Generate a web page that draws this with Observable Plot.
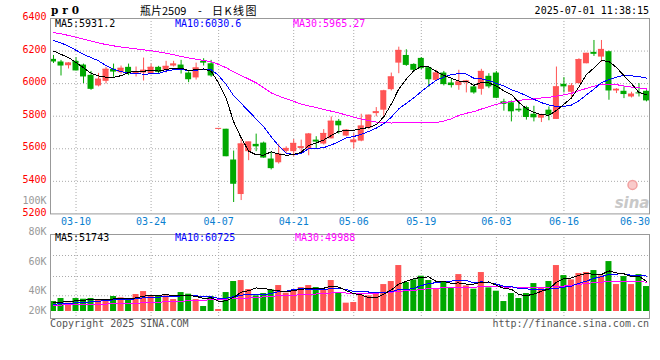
<!DOCTYPE html>
<html><head><meta charset="utf-8">
<script src="https://cdn.jsdelivr.net/npm/d3@7"></script>
<script src="https://cdn.jsdelivr.net/npm/@observablehq/plot@0.6"></script>
<style>
html,body{margin:0;padding:0;background:#fff}
#wrap{position:relative;width:660px;height:360px;overflow:hidden;background:#fff;font-family:"DejaVu Sans Mono",monospace;font-size:10px}
#wrap svg{position:absolute;left:0;top:0;overflow:visible}
.t{position:absolute;white-space:pre;line-height:10px;font-family:"DejaVu Sans Mono",monospace;font-size:10px}
.cjk{position:absolute;white-space:pre;font-family:'Noto Sans CJK SC',sans-serif;font-size:11px;line-height:13px;top:4px}
</style></head><body>
<div id="wrap">
  <div class="t" style="left:51px;top:4px;font-family:'DejaVu Serif',serif;font-weight:bold;font-size:10.5px;letter-spacing:4px;line-height:12px">pr0</div>
  <div class="cjk" style="left:140px">瓶片2509</div>
  <div class="cjk" style="left:198px">-</div>
  <div class="cjk" style="left:212px;letter-spacing:1.5px">日K线图</div>
  <div class="t" style="right:11px;top:6px;color:#000">2025-07-01 11:38:15</div>
  <div class="t" style="left:55px;top:19px;color:#000">MA5:5931.2</div>
  <div class="t" style="left:175px;top:19px;color:#0000ff">MA10:6030.6</div>
  <div class="t" style="left:293px;top:19px;color:#ff00ff">MA30:5965.27</div>
  <div class="t" style="left:55px;top:233px;color:#000">MA5:51743</div>
  <div class="t" style="left:175px;top:233px;color:#0000ff">MA10:60725</div>
  <div class="t" style="left:295px;top:233px;color:#ff00ff">MA30:49988</div>
  <div class="t" style="left:50px;top:319px;color:#555">Copyright 2025 SINA.COM</div>
  <div class="t" style="right:11px;top:319px;color:#555">http://finance.sina.com.cn</div>
</div>
<script>
const dates = ["03-05","03-06","03-07","03-10","03-11","03-12","03-13","03-14","03-17","03-18","03-19","03-20","03-21","03-24","03-25","03-26","03-27","03-28","03-31",
"04-01","04-02","04-03","04-07","04-08","04-09","04-10","04-11","04-14","04-15","04-16","04-17","04-18","04-21","04-22","04-23","04-24","04-25","04-28","04-29","04-30",
"05-06","05-07","05-08","05-09","05-12","05-13","05-14","05-15","05-16","05-19","05-20","05-21","05-22","05-23","05-26","05-27","05-28","05-29","05-30",
"06-03","06-04","06-05","06-06","06-09","06-10","06-11","06-12","06-13","06-16","06-17","06-18","06-19","06-20","06-23","06-24","06-25","06-26","06-27","06-30",
"07-01"];
const open  = [6149,6133,6110,6137,6114,6051,5986,6014,6088,6067,6100,6061,6065,6061,6100,6082,6108,6114,6065,6035,6137,6122,5725,5720,5531,5319,5582,5627,5635,5537,5514,5584,5582,5602,5598,5653,5629,5661,5769,5678,5637,5647,5725,5816,5837,5963,6126,6173,6118,6155,6098,6020,6065,6004,5988,6004,5980,5965,6045,6065,5888,5882,5843,5853,5812,5788,5837,5780,5996,5947,6000,6122,6192,6163,6196,5955,5953,5918,5943,5953];
const high  = [6173,6143,6129,6159,6120,6075,6063,6100,6120,6108,6120,6102,6157,6120,6106,6137,6137,6143,6073,6126,6153,6143,5725,5720,5586,5660,5641,5690,5641,5582,5629,5612,5657,5653,5694,5674,5718,5796,5780,5718,5694,5812,5806,5853,5959,6065,6224,6208,6122,6160,6098,6082,6075,6029,6082,6020,5990,6088,6061,6075,5904,5894,5892,5861,5861,5812,5857,6102,6037,6000,6153,6186,6265,6265,6200,5969,5980,5947,6000,5957];
const low   = [6124,6047,6090,6078,6000,5959,5980,5998,6039,6057,6049,6041,6016,6055,6061,6065,6102,6059,6006,6022,6108,6039,5725,5551,5270,5282,5527,5582,5541,5470,5506,5572,5551,5567,5557,5602,5623,5661,5690,5674,5598,5643,5718,5796,5792,5955,6061,6106,6071,6085,5976,6020,5986,5973,5959,5943,5935,5929,5969,5908,5831,5765,5823,5776,5765,5761,5772,5780,5943,5908,6000,6122,6167,6131,5898,5939,5908,5912,5918,5888];
const close = [6133,6108,6126,6078,6041,5965,6027,6088,6071,6094,6061,6073,6082,6100,6069,6106,6120,6086,6024,6096,6126,6047,5725,5551,5382,5629,5641,5612,5543,5478,5567,5602,5633,5612,5690,5641,5694,5769,5741,5714,5653,5739,5806,5827,5955,6041,6204,6112,6082,6092,6024,6065,5994,5988,6010,6016,5943,6075,5980,5910,5873,5827,5833,5792,5790,5808,5806,5980,5980,5986,6147,6186,6180,6210,5955,5965,5933,5935,5937,5894];
const ma5  = [6200,6180,6160,6130,6097,6064,6047,6040,6038,6049,6068,6077,6076,6082,6077,6086,6095,6096,6081,6086,6090,6076,6004,5909,5766,5667,5586,5563,5561,5581,5568,5560,5565,5578,5621,5636,5654,5681,5707,5712,5714,5723,5731,5748,5796,5874,5967,6028,6079,6106,6103,6075,6051,6033,6016,6015,5990,6006,6005,5985,5956,5933,5885,5847,5823,5810,5806,5835,5873,5912,5980,6056,6096,6142,6136,6099,6049,6000,5945,5933];
const ma10 = [6265,6250,6230,6205,6180,6160,6140,6110,6088,6073,6066,6062,6058,6060,6063,6077,6086,6086,6082,6082,6088,6086,6050,5995,5926,5879,5831,5783,5735,5673,5618,5573,5564,5570,5601,5602,5607,5623,5643,5666,5675,5689,5706,5727,5754,5794,5845,5879,5913,5951,5988,6021,6040,6056,6061,6059,6033,6029,6019,6001,5985,5962,5946,5926,5904,5883,5869,5860,5860,5868,5895,5931,5966,6007,6024,6040,6052,6048,6043,6034];
const ma30 = [6314,6306,6296,6285,6273,6262,6250,6240,6232,6225,6219,6213,6208,6202,6195,6187,6178,6167,6158,6150,6143,6135,6118,6098,6072,6050,6028,6005,5975,5943,5924,5907,5891,5875,5863,5853,5841,5831,5820,5807,5794,5782,5773,5764,5760,5758,5761,5762,5764,5764,5760,5761,5770,5784,5805,5818,5828,5844,5858,5873,5883,5890,5897,5903,5906,5912,5916,5923,5931,5940,5956,5971,5984,5996,5996,5994,5985,5979,5974,5967];
const volume = [17100,22300,14300,22300,21100,22300,20000,18300,25700,23400,20000,29100,34200,27400,27400,26800,20500,32500,29700,20500,8600,25700,3400,32500,51400,53100,37700,26800,30800,37100,44500,31400,35400,41100,44500,41100,37700,53100,32500,14300,15400,28000,26800,32500,46200,51400,78800,49700,54200,60500,53100,39400,49700,39400,63300,43900,38200,66800,40500,34800,17100,30800,22300,30800,47900,41100,51400,78800,61600,54200,65100,66800,70200,61100,85600,46200,59900,46200,63300,42800];
const volMa5  = [14800,16000,17100,18300,19400,20400,20000,20800,21500,21900,21500,23300,26500,26800,27600,29000,27300,26900,27400,26000,22400,23400,17600,18100,24300,33200,35600,40300,39900,37100,35400,34100,35800,37900,39400,38700,39900,43500,41800,35700,30600,28600,23400,23400,29800,37000,47100,51700,56000,58900,59200,51400,51400,48400,49000,47100,46900,50300,50600,44900,39500,38000,29100,27200,29800,34600,38700,50000,56200,57400,62200,65300,63600,63500,69700,66000,64600,59800,60300,51700];
const volMa10 = [12600,13100,13700,14800,15400,16600,17700,18800,20000,20700,20900,21600,23600,24100,24800,25200,25300,26700,27100,26800,25700,25300,22300,22800,25200,27800,29500,28900,29000,30700,34300,34900,38100,38900,38200,37000,37000,39700,39800,37600,34600,34300,33400,32600,32800,33800,37900,37600,39700,44300,48100,49300,51500,52200,53900,53200,49100,50800,49500,46900,43300,42500,39700,38900,37300,37000,38400,39500,41700,43600,48400,52000,56800,59800,63600,64100,64900,61700,61900,60700];
const volMa30 = [10800,11100,11400,11700,12000,12300,12600,12800,13100,13400,13700,14300,14800,15400,16000,16600,17100,17700,18300,18800,19400,20000,20500,21100,21700,22300,23100,24000,25100,26100,27000,27300,28000,28600,29400,30000,30600,31800,32000,31700,31600,31500,31300,31400,32100,32900,34800,35400,36200,37600,39000,39500,41000,41300,41700,41300,41400,42700,43000,42900,42000,42000,41500,41200,41300,41300,41800,42600,43600,45000,46600,47900,49400,50300,51600,51400,50800,50700,51000,50400];

const priceTicks = [6400,6200,6000,5800,5600,5400,5200];
const priceGrid = [6200,6000,5800,5600,5400];
const dateTicks = ["03-10","03-24","04-07","04-21","05-06","05-19","06-03","06-16","06-30"];
const gridDates = ["03-10","03-24","04-07","04-21","05-06","05-19","06-03","06-16"];
const volTickValues = [190000,137000,86000,36000,2000];
const volTickLabels = ["100K","80K","60K","40K","20K"];
const volGrid = [96000,60000,27000];

const UP = "#ff5555", DOWN = "#00a800", BLUE_LBL = "#0a80d0", GRID = "#aaa", FRAME = "#999";

const rows = dates.map((date, i) => ({
  date, o: open[i], h: high[i], l: low[i], c: close[i],
  ma5: ma5[i], ma10: ma10[i], ma30: ma30[i],
  v: volume[i], vma5: volMa5[i], vma10: volMa10[i], vma30: volMa30[i],
  up: close[i] >= open[i]
}));
const ups = rows.filter(d => d.up), downs = rows.filter(d => !d.up);

const xOpts = {type: "band", domain: dates, paddingInner: 0.2, paddingOuter: 0, align: 0.5, axis: null};
const common = {width: 660, height: 360, marginLeft: 50, marginRight: 11,
  style: {background: "transparent", fontFamily: "DejaVu Sans Mono, monospace", fontSize: "10px", overflow: "visible"}};
const lineStyle = {strokeWidth: 1, shapeRendering: "crispEdges"};

const price = Plot.plot({
  ...common, marginTop: 18, marginBottom: 146.6,
  x: xOpts,
  y: {domain: [5200, 6400], axis: null},
  marks: [
    Plot.ruleY(priceGrid, {y: d => d, stroke: GRID, strokeDasharray: "1,2"}),
    Plot.ruleX(gridDates, {x: d => d, stroke: GRID, strokeDasharray: "1,2"}),
    Plot.text(["sina"], {frameAnchor: "bottom-right", textAnchor: "end", lineAnchor: "middle", dx: 0, dy: -11, fill: "#c8c8c8", fontSize: 15, fontWeight: "bold", fontStyle: "italic", fontFamily: "DejaVu Sans, sans-serif"}),
    Plot.dot([0], {frameAnchor: "bottom-right", dx: -17, dy: -29, r: 4.5, fill: "#f9caca", stroke: "#f2a0a0", strokeWidth: 1.5}),
    Plot.ruleX(ups, {x: "date", y1: "l", y2: "h", stroke: UP}),
    Plot.ruleX(downs, {x: "date", y1: "l", y2: "h", stroke: DOWN}),
    Plot.barY(ups, {x: "date", y1: "o", y2: "c", fill: UP}),
    Plot.barY(downs, {x: "date", y1: "o", y2: "c", fill: DOWN}),
    Plot.tickY(ups, {x: "date", y: "c", stroke: UP}),
    Plot.line(rows, {x: "date", y: "ma30", stroke: "#ff00ff", ...lineStyle}),
    Plot.line(rows, {x: "date", y: "ma10", stroke: "#0000ff", ...lineStyle}),
    Plot.line(rows, {x: "date", y: "ma5", stroke: "#000", ...lineStyle}),
    Plot.frame({stroke: FRAME}),
    Plot.text(priceTicks, {y: d => d, text: d => String(d), frameAnchor: "left", textAnchor: "end", dx: -4, dy: -1.5, fill: "#f00"}),
    Plot.text(dateTicks.slice(0, -1), {x: d => d, text: d => d, frameAnchor: "bottom", lineAnchor: "middle", dy: 7.6, fill: BLUE_LBL}),
    Plot.text(dateTicks.slice(-1), {x: d => d, text: d => d, frameAnchor: "bottom", lineAnchor: "middle", textAnchor: "end", dx: 11, dy: 7.6, fill: BLUE_LBL})
  ]
});

const vol = Plot.plot({
  ...common, marginTop: 234, marginBottom: 42,
  x: xOpts,
  y: {domain: [-12000, 132000], axis: null},
  marks: [
    Plot.ruleY(volGrid, {y: d => d, stroke: GRID, strokeDasharray: "1,2"}),
    Plot.ruleX(gridDates, {x: d => d, stroke: GRID, strokeDasharray: "1,2"}),
    Plot.barY(ups, {x: "date", y: "v", fill: UP}),
    Plot.barY(downs, {x: "date", y: "v", fill: DOWN}),
    Plot.line(rows, {x: "date", y: "vma30", stroke: "#ff00ff", ...lineStyle}),
    Plot.line(rows, {x: "date", y: "vma10", stroke: "#0000ff", ...lineStyle}),
    Plot.line(rows, {x: "date", y: "vma5", stroke: "#000", ...lineStyle}),
    Plot.frame({stroke: FRAME}),
    Plot.text(volTickValues, {y: d => d, text: (d, i) => volTickLabels[i], frameAnchor: "left", textAnchor: "end", dx: -4, fill: "#999"})
  ]
});

const wrap = document.getElementById("wrap");
wrap.insertBefore(vol, wrap.firstChild);
wrap.insertBefore(price, wrap.firstChild);
</script>
</body></html>
